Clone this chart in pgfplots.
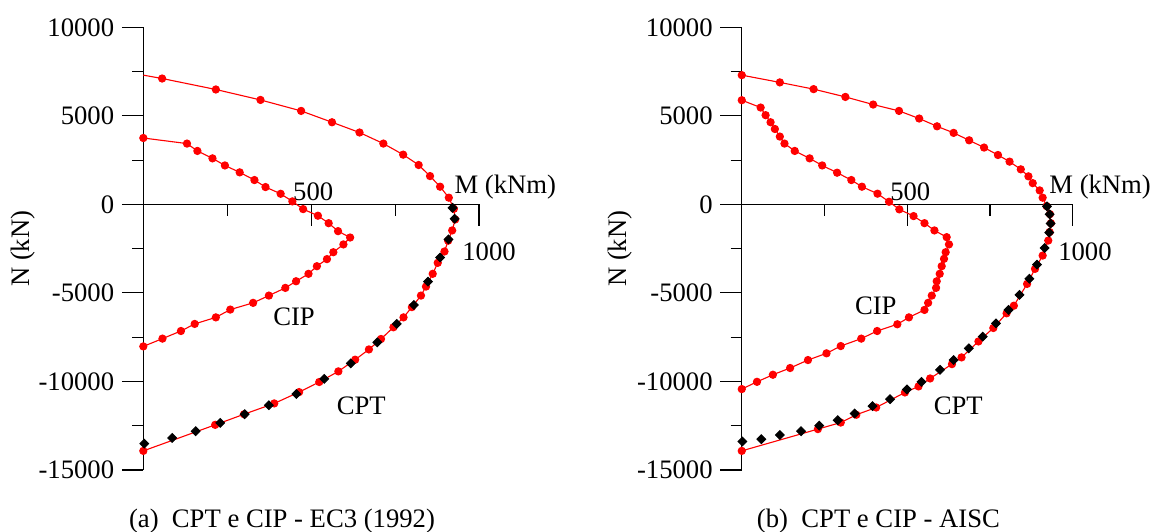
\documentclass[border=0pt]{standalone}
\usepackage{pgfplots}
\pgfplotsset{compat=1.18}
\usepackage{fontspec}
\setmainfont{Liberation Serif}

% left panel: CPT e CIP - EC3
\pgfplotstableread{
M N
0 7300
56 7110
216 6490
349 5900
470 5280
562 4640
644 4060
715 3435
774 2810
820 2225
854 1600
884 1000
910 380
925 -250
929 -850
920 -1470
908 -2050
897 -2660
877 -3300
862 -3920
842 -4640
827 -5150
800 -5800
775 -6380
745 -6940
708 -7600
672 -8190
631 -8770
581 -9430
524 -10030
464 -10600
390 -11240
300 -11850
214 -12450
0 -13920
}\cptA
\pgfplotstableread{
M N
3 -13510
86 -13190
156 -12810
229 -12340
302 -11850
374 -11340
456 -10710
539 -9850
618 -8980
697 -7790
755 -6750
806 -5680
848 -4360
884 -3000
909 -1980
927 -810
921 -190
}\cptAb
\pgfplotstableread{
M N
0 3750
130 3435
161 3020
206 2600
243 2200
287 1810
331 1375
364 980
409 600
444 170
476 -265
520 -640
552 -1060
580 -1510
616 -1870
596 -2260
566 -2700
547 -3090
517 -3490
492 -3920
455 -4340
423 -4715
374 -5150
327 -5560
259 -5940
216 -6380
153 -6750
112 -7150
57 -7580
0 -8020
}\cipA

% right panel: CPT e CIP - AISC
\pgfplotstableread{
M N
0 7300
115 6890
217 6510
313 6070
397 5640
475 5280
536 4850
590 4410
640 4040
687 3620
732 3210
774 2790
809 2415
843 1980
866 1585
879 1200
900 790
909 380
921 -100
931 -550
934 -1060
930 -1560
926 -2040
909 -2890
886 -3640
862 -4490
822 -5720
800 -6150
760 -6980
715 -7740
664 -8640
635 -9020
569 -9830
534 -10280
493 -10620
406 -11470
346 -11880
299 -12320
230 -12690
0 -13920
}\cptB
\pgfplotstableread{
M N
2 -13390
59 -13260
115 -13020
179 -12810
234 -12490
290 -12190
341 -11810
395 -11390
448 -11000
499 -10450
543 -10020
599 -9340
640 -8790
686 -8130
728 -7470
768 -6720
806 -5960
839 -5110
869 -4200
892 -3400
915 -2460
929 -1590
933 -1080
930 -560
922 -110
}\cptBb
\pgfplotstableread{
M N
0 5885
57 5470
72 5040
87 4640
100 4260
115 3830
129 3435
160 3020
205 2600
243 2200
288 1790
331 1375
363 1000
410 605
445 150
476 -280
519 -660
552 -1060
582 -1470
619 -1850
626 -2260
616 -2700
611 -3075
604 -3490
598 -3920
589 -4340
587 -4715
574 -5150
563 -5560
552 -5960
505 -6380
470 -6770
409 -7150
361 -7580
299 -8000
256 -8410
200 -8790
146 -9240
94 -9620
46 -10020
0 -10430
}\cipB

\pgfplotsset{
  nm/.style={
    scale only axis, clip=false,
    height=199.2pt,
    xmin=0, xmax=1000, ymin=-15000, ymax=10000,
    axis x line=middle, axis y line=left,
    axis line style={-, black, line width=0.5pt},
    tick align=outside,
    major tick length=9.6pt, minor tick length=5pt,
    tick style={black, line width=0.5pt},
    xtick={500,1000}, xticklabels={},
    minor xtick={250,750},
    ytick={-15000,-10000,-5000,0,5000,10000},
    yticklabels={-15000,-10000,-5000,0,5000,10000},
    minor ytick={-12500,-7500,-2500,2500,7500},
    scaled ticks=false,
    hide obscured x ticks=false, hide obscured y ticks=false,
    ticklabel style={font=\fontsize{12}{14}\selectfont},
  },
  redcurve/.style={red, line width=0.5pt, mark=*, mark size=1.6pt,
    mark options={solid, fill=red, draw=red}},
  blackpts/.style={only marks, mark=square*, mark size=1.4pt,
    mark options={rotate=45, fill=black, draw=black}},
}

\begin{document}
\begin{tikzpicture}[font=\fontsize{12}{14}\selectfont]
\useasboundingbox (-64.5pt,-27.45pt) rectangle (455.7pt,211.5pt);

\begin{axis}[nm, width=151.07pt]
  \addplot[redcurve, mark phase=2] table[x=M, y=N] {\cptA};
  \addplot[redcurve] table[x=M, y=N] {\cipA};
  \addplot[blackpts] table[x=M, y=N] {\cptAb};
  \node[anchor=base] at (axis cs:506,0) [yshift=1.8pt] {500};
  \node[anchor=base west, inner sep=0pt] at (axis cs:949,0) [yshift=-25.2pt] {1000};
  \node[anchor=base west, inner sep=0pt] at (axis cs:926,0) [yshift=4.8pt] {M (kNm)};
  \node at (axis cs:449,-6320) {CIP};
  \node at (axis cs:649,-11375) {CPT};
  \node[rotate=90] at (axis description cs:-0.358,0.5) {N (kN)};
  \node[anchor=base] at (axis description cs:0.413,-0.131) {(a)\enspace CPT e CIP - EC3 (1992)};
\end{axis}

\begin{axis}[nm, width=148.95pt, at={(269.3pt,0pt)}, anchor=south west]
  \addplot[redcurve] table[x=M, y=N] {\cptB};
  \addplot[redcurve] table[x=M, y=N] {\cipB};
  \addplot[blackpts] table[x=M, y=N] {\cptBb};
  \node[anchor=base] at (axis cs:509,0) [yshift=1.8pt] {500};
  \node[anchor=base west, inner sep=0pt] at (axis cs:955,0) [yshift=-25.2pt] {1000};
  \node[anchor=base west, inner sep=0pt] at (axis cs:928,0) [yshift=4.8pt] {M (kNm)};
  \node at (axis cs:405,-5716) {CIP};
  \node at (axis cs:654,-11375) {CPT};
  \node[rotate=90] at (axis description cs:-0.367,0.5) {N (kN)};
  \node[anchor=base] at (axis description cs:0.413,-0.131) {(b)\enspace CPT e CIP - AISC};
\end{axis}
\end{tikzpicture}
\end{document}
